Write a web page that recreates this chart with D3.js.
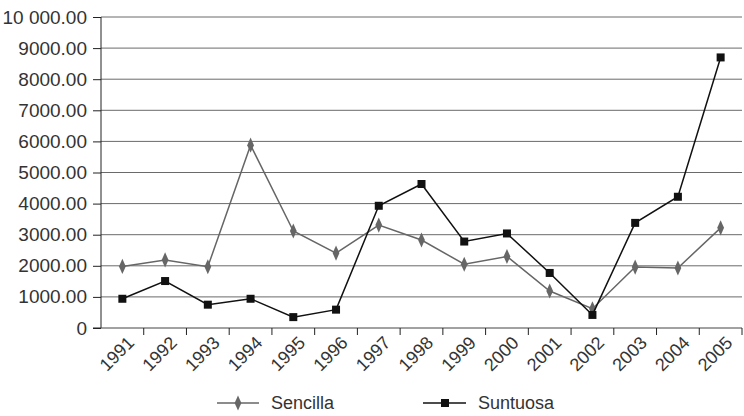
<!DOCTYPE html>
<html><head><meta charset="utf-8">
<script src="https://cdn.jsdelivr.net/npm/d3@7"></script>
<style>body{margin:0;background:#fff}svg{display:block}text{font-family:"Liberation Sans",Arial,sans-serif;fill:#333}</style>
</head><body><svg id="c" width="744" height="416"></svg>
<script>
const years = ["1991","1992","1993","1994","1995","1996","1997","1998","1999","2000","2001","2002","2003","2004","2005"];
const sencilla = [1980, 2190, 1970, 5880, 3120, 2410, 3310, 2830, 2050, 2300, 1190, 620, 1960, 1930, 3220];
const suntuosa = [940, 1510, 750, 940, 350, 590, 3930, 4630, 2780, 3040, 1770, 420, 3380, 4220, 8700];
const yTicks = [0,1000,2000,3000,4000,5000,6000,7000,8000,9000,10000];
const yTickLabels = ["0","1000.00","2000.00","3000.00","4000.00","5000.00","6000.00","7000.00","8000.00","9000.00","10 000.00"];
const seriesNames = ["Sencilla","Suntuosa"];

const svg = d3.select("#c");
const L = 101, R = 742, T = 17, B = 328;
const x = d3.scaleBand().domain(years).range([L, R]);
const y = d3.scaleLinear().domain([0, 10000]).range([B, T]);

// gridlines
svg.append("g").selectAll("line").data(yTicks.filter(d=>d>0)).join("line")
  .attr("x1", L).attr("x2", R).attr("y1", d=>y(d)).attr("y2", d=>y(d))
  .attr("stroke", "#6a6a6a").attr("stroke-width", 1);

// y axis
const yAxis = d3.axisLeft(y).tickValues(yTicks).tickSize(8).tickPadding(6)
  .tickFormat((d,i)=>yTickLabels[i]);
const gy = svg.append("g").attr("transform", `translate(${L},0)`).call(yAxis);
gy.select(".domain").attr("stroke", "#222").attr("d", `M-8,${B}H0V${T}`);
gy.selectAll(".tick line").attr("stroke", "#222");
gy.selectAll("text").style("font-size", "19px").attr("fill", "#333").style("font-family","\"Liberation Sans\",Arial,sans-serif");

// x axis
const gx = svg.append("g").attr("transform", `translate(0,${B})`);
gx.append("line").attr("x1", L).attr("x2", R).attr("y1", 0).attr("y2", 0).attr("stroke", "#444");
gx.selectAll("line.t").data(years.slice(1).concat(["end"])).join("line").attr("class","t")
  .attr("x1", (d,i)=> L + (i+1)*x.bandwidth()).attr("x2", (d,i)=> L + (i+1)*x.bandwidth())
  .attr("y1", 0).attr("y2", 7).attr("stroke", "#222");
gx.selectAll("text").data(years).join("text")
  .attr("transform", d=>`translate(${x(d)+x.bandwidth()/2+4},7) rotate(-45)`)
  .attr("text-anchor", "end").attr("dy", "0.7em")
  .style("font-size", "18px").text(d=>d);

const line = d3.line().x((d,i)=>x(years[i])+x.bandwidth()/2).y(d=>y(d));
const diamond = d3.symbol().type(d3.symbolDiamond).size(55);

// Sencilla
svg.append("path").datum(sencilla).attr("d", line).attr("fill","none").attr("stroke","#666").attr("stroke-width",1.5);
svg.append("g").selectAll("path").data(sencilla).join("path")
  .attr("d", diamond)
  .attr("transform", (d,i)=>`translate(${x(years[i])+x.bandwidth()/2},${y(d)}) scale(0.85,1.1)`)
  .attr("fill","#666");

// Suntuosa
svg.append("path").datum(suntuosa).attr("d", line).attr("fill","none").attr("stroke","#111").attr("stroke-width",1.5);
svg.append("g").selectAll("rect").data(suntuosa).join("rect")
  .attr("x",(d,i)=>x(years[i])+x.bandwidth()/2-4).attr("y",d=>y(d)-4)
  .attr("width",8).attr("height",8).attr("fill","#111");

// legend
const lg = svg.append("g");
const ly = 403;
lg.append("line").attr("x1",217).attr("x2",259).attr("y1",ly).attr("y2",ly).attr("stroke","#666").attr("stroke-width",1.5);
lg.append("path").attr("d", diamond).attr("transform",`translate(238,${ly}) scale(0.85,1.1)`).attr("fill","#666");
lg.append("text").attr("x",271).attr("y",ly).attr("dy","0.35em").style("font-size","18px").text(seriesNames[0]);
lg.append("line").attr("x1",423).attr("x2",466).attr("y1",ly).attr("y2",ly).attr("stroke","#111").attr("stroke-width",1.5);
lg.append("rect").attr("x",441).attr("y",ly-4).attr("width",8).attr("height",8).attr("fill","#111");
lg.append("text").attr("x",478).attr("y",ly).attr("dy","0.35em").style("font-size","18px").text(seriesNames[1]);
</script></body></html>
